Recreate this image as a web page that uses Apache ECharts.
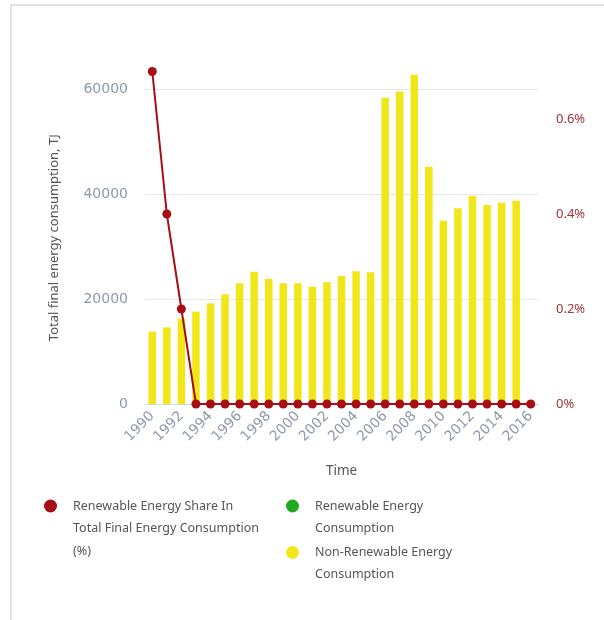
<!DOCTYPE html>
<html>
<head>
<meta charset="utf-8">
<script src="https://cdn.jsdelivr.net/npm/echarts@6/dist/echarts.min.js"></script>
<style>
html,body{margin:0;padding:0;background:#fff;}
#main{width:604px;height:620px;}
</style>
</head>
<body>
<div id="main"></div>
<script>
var years = ['1990','1991','1992','1993','1994','1995','1996','1997','1998','1999','2000','2001','2002','2003','2004','2005','2006','2007','2008','2009','2010','2011','2012','2013','2014','2015','2016'];
var renewableShare = [0.7,0.4,0.2,0,0,0,0,0,0,0,0,0,0,0,0,0,0,0,0,0,0,0,0,0,0,0,0];
var renewableConsumption = [0,0,0,0,0,0,0,0,0,0,0,0,0,0,0,0,0,0,0,0,0,0,0,0,0,0,null];
var nonRenewableConsumption = [13800,14600,16300,17600,19200,20900,23000,25200,23800,23000,23000,22350,23200,24400,25300,25100,58350,59500,62700,45200,34900,37300,39600,37900,38350,38700,null];
var leftTicks = [0,20000,40000,60000];
var rightTicks = ['0%','0.2%','0.4%','0.6%'];
var seriesNames = ['Renewable Energy Share In Total Final Energy Consumption (%)','Renewable Energy Consumption','Non-Renewable Energy Consumption'];
var legendLines = [['Renewable Energy Share In','Total Final Energy Consumption','(%)'],['Renewable Energy','Consumption'],['Non-Renewable Energy','Consumption']];

var FONT = 'Noto Sans';
var NUMFONT = 'DejaVu Sans';
var LEG_TXT = {color:'#555',fontSize:12.5,lineHeight:14,fontFamily:FONT,padding:[0,0,0,11]};

function mkLegend(i,left,top){
  return {left:left,top:top,icon:'circle',itemWidth:13,itemHeight:13,
    data:[seriesNames[i]],formatter:function(){return legendLines[i][0];},textStyle:LEG_TXT};
}
function contLines(i,x,y0){
  var out=[];
  for(var k=1;k<legendLines[i].length;k++){
    out.push({type:'text',left:x,top:y0+23*k-7,silent:true,
      style:{text:legendLines[i][k],fill:'#555',font:'12.5px "'+FONT+'"'}});
  }
  return out;
}

var graphics=[{type:'polyline',shape:{points:[[11,640],[11,5],[620,5]]},style:{stroke:'#d8d8d8',lineWidth:1.5,fill:null},silent:true}];
graphics=graphics.concat(contLines(0,73,506),contLines(1,315,506),contLines(2,315,552));

var chart = echarts.init(document.getElementById('main'));
chart.setOption({
  animation:false,
  textStyle:{fontFamily:FONT},
  graphic:graphics,
  grid:{left:145,right:66,top:71.5,bottom:216},
  legend:[mkLegend(0,39,494),mkLegend(1,281,494),mkLegend(2,281,540.5)],
  xAxis:{
    type:'category',data:years,boundaryGap:true,
    name:'Time',nameLocation:'middle',nameGap:60,
    nameTextStyle:{color:'#555',fontSize:13.5,fontFamily:FONT},
    axisLine:{lineStyle:{color:'#ccd6eb',width:1}},
    axisTick:{alignWithLabel:true,interval:1,length:9,lineStyle:{color:'#ccd6eb'}},
    axisLabel:{interval:1,rotate:45,color:'#8e99ab',fontSize:14,margin:10,fontFamily:NUMFONT}
  },
  yAxis:[{
    type:'value',min:0,max:63333,interval:20000,position:'left',
    name:'Total final energy consumption, TJ',nameLocation:'middle',nameGap:84,nameRotate:90,
    nameTextStyle:{color:'#555',fontSize:13,fontFamily:FONT},
    axisLine:{show:false},axisTick:{show:false},
    splitLine:{showMaxLine:false,lineStyle:{color:'#e6e6e6',width:1}},
    axisLabel:{color:'#8e99ab',fontSize:14,margin:17,showMaxLabel:false,fontFamily:NUMFONT,
      formatter:function(v){return leftTicks.indexOf(v)>=0?String(v):'';}}
  },{
    type:'value',min:0,max:0.7,interval:0.2,position:'right',
    axisLine:{show:false},axisTick:{show:false},splitLine:{show:false},
    axisLabel:{color:'#a0343a',fontSize:13,margin:18,showMaxLabel:false,fontFamily:FONT,
      formatter:function(v){var i=Math.round(v/0.2);return rightTicks[i]||'';}}
  }],
  series:[{
    name:seriesNames[0],
    type:'line',yAxisIndex:1,data:renewableShare,z:5,
    color:'#a50f15',symbol:'circle',symbolSize:9,
    lineStyle:{width:2,color:'#a50f15'},itemStyle:{color:'#a50f15'}
  },{
    name:seriesNames[1],type:'bar',stack:'e',data:renewableConsumption,
    color:'#22a822',itemStyle:{color:'#22a822'},barWidth:7.5
  },{
    name:seriesNames[2],type:'bar',stack:'e',data:nonRenewableConsumption,
    color:'#f0e619',itemStyle:{color:'#f0e619'},barWidth:7.5
  }]
});
</script>
</body>
</html>
